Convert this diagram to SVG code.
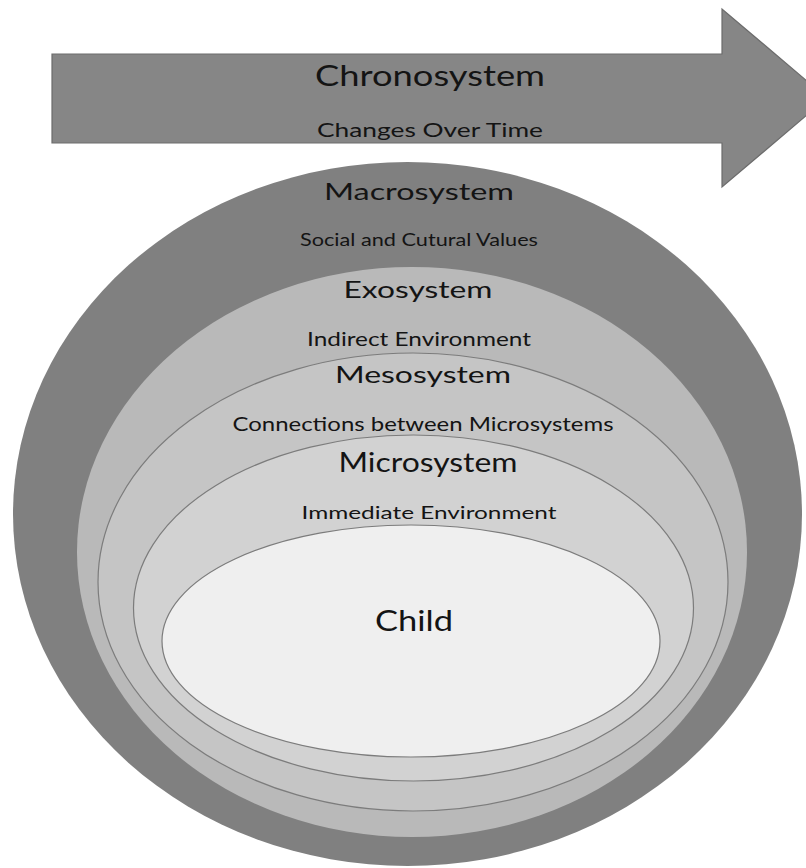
<svg xmlns="http://www.w3.org/2000/svg" width="806" height="868" viewBox="0 0 806 868">
  <style>
    .lbl { font-family: Lato, "Open Sans", "Liberation Sans", sans-serif; fill: #141414; text-anchor: middle; }
    .ring { stroke: #7c7c7c; stroke-width: 1.2; }
  </style>
  <rect x="0" y="0" width="806" height="868" fill="#ffffff"/>

  <!-- Chronosystem: block arrow across the top -->
  <g id="chronosystem">
    <path d="M52,54 H722 V9 L827,98 L722,187 V143 H52 Z" fill="#868686" stroke="#6c6c6c" stroke-width="1.2"/>
    <text class="lbl" x="430" y="86" font-size="29" textLength="230" lengthAdjust="spacingAndGlyphs">Chronosystem</text>
    <text class="lbl" x="430" y="137" font-size="19.5" textLength="226" lengthAdjust="spacingAndGlyphs">Changes Over Time</text>
  </g>

  <!-- Nested systems, outermost first -->
  <g id="macrosystem">
    <ellipse cx="407.5" cy="514" rx="394.5" ry="352" fill="#808080"/>
    <text class="lbl" x="419" y="200" font-size="24" textLength="190" lengthAdjust="spacingAndGlyphs">Macrosystem</text>
    <text class="lbl" x="419" y="246" font-size="17" textLength="238" lengthAdjust="spacingAndGlyphs">Social and Cutural Values</text>
  </g>

  <g id="exosystem">
    <ellipse cx="412" cy="552" rx="335" ry="285" fill="#b9b9b9"/>
    <text class="lbl" x="418" y="298" font-size="24" textLength="149" lengthAdjust="spacingAndGlyphs">Exosystem</text>
    <text class="lbl" x="419" y="346" font-size="19" textLength="224" lengthAdjust="spacingAndGlyphs">Indirect Environment</text>
  </g>

  <g id="mesosystem">
    <ellipse class="ring" cx="413" cy="582" rx="315" ry="229" fill="#c5c5c5"/>
    <text class="lbl" x="423" y="383" font-size="24" textLength="176" lengthAdjust="spacingAndGlyphs">Mesosystem</text>
    <text class="lbl" x="423" y="431" font-size="19" textLength="381" lengthAdjust="spacingAndGlyphs">Connections between Microsystems</text>
  </g>

  <g id="microsystem">
    <ellipse class="ring" cx="413.5" cy="608" rx="280" ry="173" fill="#d2d2d2"/>
    <text class="lbl" x="428" y="472" font-size="26" textLength="179" lengthAdjust="spacingAndGlyphs">Microsystem</text>
    <text class="lbl" x="429" y="519" font-size="18" textLength="255" lengthAdjust="spacingAndGlyphs">Immediate Environment</text>
  </g>

  <g id="child">
    <ellipse class="ring" cx="411" cy="641" rx="249" ry="116" fill="#efefef"/>
    <text class="lbl" x="414" y="631" font-size="28" textLength="78" lengthAdjust="spacingAndGlyphs">Child</text>
  </g>

  <!-- no connectors in this figure -->
  <g id="connectors"/>
</svg>
